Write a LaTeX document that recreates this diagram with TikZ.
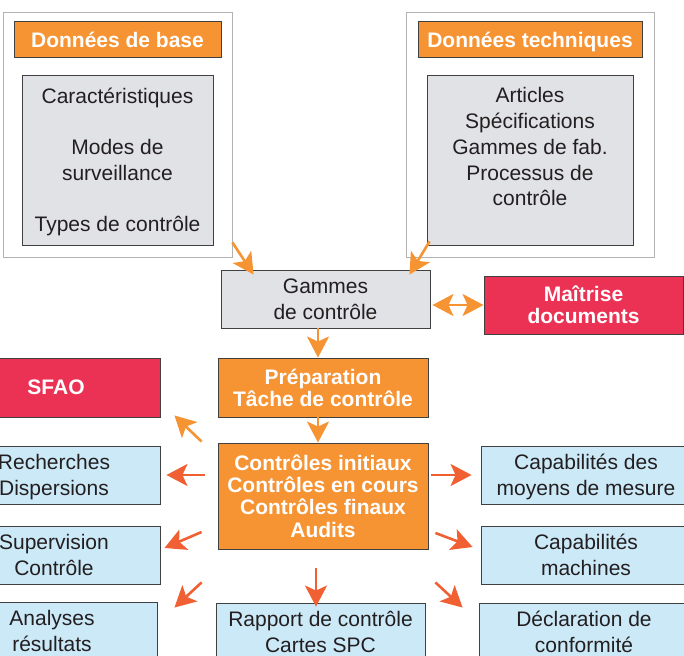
\documentclass[tikz,border=0pt]{standalone}
\usepackage{fontspec}
\setmainfont{Liberation Sans}
\usepackage{tikz, xcolor}
\definecolor{orangeF}{RGB}{246,147,51}
\definecolor{rougeF}{RGB}{236,50,84}
\definecolor{bleuF}{RGB}{204,233,248}
\definecolor{grisF}{RGB}{225,226,230}
\definecolor{flecheC}{RGB}{246,147,51}
\definecolor{flecheS}{RGB}{240,96,50}
\definecolor{texteF}{RGB}{35,31,32}
\usetikzlibrary{arrows.meta}
\tikzset{>={Stealth[length=21pt,width=22pt,inset=5pt]}}

\begin{document}
\begin{tikzpicture}[x=1pt, y=-1pt,
    boite/.style={draw=black!75, line width=0.9pt, inner sep=0pt, align=center, text depth=0pt, text=texteF, font=\fontsize{21}{25.7}\selectfont},
    boitegris/.style={boite, fill=grisF},
    boitebleu/.style={boite, fill=bleuF},
    boiteorange/.style={boite, fill=orangeF, text=white, font=\fontsize{21}{22.3}\selectfont\bfseries},
    boiterouge/.style={boiteorange, fill=rougeF},
    cadre/.style={draw=black!30, line width=0.8pt, inner sep=0pt},
    texte/.style={inner sep=0pt, align=center, text=texteF, font=\fontsize{21}{25.7}\selectfont},
    flecheclaire/.style={->, draw=flecheC, fill=flecheC, line width=2.6pt},
    flechesombre/.style={->, draw=flecheS, fill=flecheS, line width=2.6pt}]
    \useasboundingbox (0,0) rectangle (684,655);
    \clip (0,0) rectangle (684,655);
    \node [cadre, minimum width=229pt, minimum height=245pt] (cadreBase) at (117.5,134.5) {};
    \node [boiteorange, minimum width=207pt, minimum height=36pt] (titreBase) at (117.5,39.5) {Données de base};
    \node [boitegris, minimum width=191pt, minimum height=170pt] (listeBase) at (117.5,160) {};
    \node [texte, anchor=north] (texteBase) at ([yshift=-13pt]listeBase.north) {Caractéristiques\\[25.7pt]Modes de\\surveillance\\[25.7pt]Types de contrôle};
    \node [cadre, minimum width=248pt, minimum height=245pt] (cadreTech) at (530,134.5) {};
    \node [boiteorange, minimum width=224pt, minimum height=36pt] (titreTech) at (530,39.5) {Données techniques};
    \node [boitegris, minimum width=206pt, minimum height=170pt] (listeTech) at (530,160) {};
    \node [texte, anchor=north] (texteTech) at ([yshift=-13pt]listeTech.north) {Articles\\Spécifications\\Gammes de fab.\\Processus de\\contrôle};
    \node [boitegris, minimum width=209pt, minimum height=58pt] (gammes) at (325.5,299) {Gammes\\de contrôle};
    \node [boiterouge, minimum width=199pt, minimum height=58pt] (maitrise) at (583.5,305) {Maîtrise\\documents};
    \node [boiteorange, minimum width=210pt, minimum height=59pt] (prepa) at (323,387.5) {Préparation\\Tâche de contrôle};
    \node [boiterouge, minimum width=208pt, minimum height=59pt] (sfao) at (56,387.5) {SFAO};
    \node [boiteorange, minimum width=210pt, minimum height=106pt] (controles) at (323,496) {Contrôles initiaux\\Contrôles en cours\\Contrôles finaux\\Audits};
    \node [boitebleu, minimum width=212pt, minimum height=58pt] (recherches) at (54,475) {Recherches\\Dispersions};
    \node [boitebleu, minimum width=212pt, minimum height=58pt] (supervision) at (54,555) {Supervision\\Contrôle};
    \node [boitebleu, minimum width=210pt, minimum height=58pt] (analyses) at (52,631) {Analyses\\résultats};
    \node [boitebleu, minimum width=209pt, minimum height=58pt] (rapport) at (320.5,632) {Rapport de contrôle\\Cartes SPC};
    \node [boitebleu, minimum width=210pt, minimum height=58pt] (capaMesure) at (586,475) {Capabilités des\\moyens de mesure};
    \node [boitebleu, minimum width=210pt, minimum height=58pt] (capaMachines) at (586,555) {Capabilités\\machines};
    \node [boitebleu, minimum width=210pt, minimum height=58pt] (declaration) at (584,632) {Déclaration de\\conformité};
    \draw [flecheclaire] ([yshift=15pt]cadreBase.south east) -- ([xshift=33pt,yshift=-5pt]gammes.north west);
    \draw [flecheclaire] ([xshift=24pt,yshift=16pt]cadreTech.south west) -- ([xshift=-21pt,yshift=-5pt]gammes.north east);
    \draw [flecheclaire, <->, shorten <=2pt] (gammes.east |- maitrise.west) -- (maitrise.west);
    \draw [flecheclaire] ([xshift=-7.5pt]gammes.south) -- ([xshift=-5pt]prepa.north);
    \draw [flecheclaire] ([xshift=-5pt]prepa.south) -- ([xshift=-5pt]controles.north);
    \draw [flecheclaire] ([xshift=-16pt,yshift=1pt]controles.north west) -- ([xshift=14pt,yshift=2pt]sfao.south east);
    \draw [flechesombre, shorten <=13pt, shorten >=6pt] (controles.west |- recherches.east) -- (recherches.east);
    \draw [flechesombre] ([xshift=-16pt,yshift=-36pt]controles.west) -- ([xshift=4pt,yshift=7pt]supervision.east);
    \draw [flechesombre] ([xshift=-16pt,yshift=-33pt]controles.south west) -- ([xshift=17pt,yshift=-6pt]analyses.north east);
    \draw [flechesombre] ([xshift=-7pt,yshift=-19pt]controles.south) -- ([xshift=-4.5pt,yshift=-4pt]rapport.north);
    \draw [flechesombre, shorten <=3pt, shorten >=9pt] (controles.east |- capaMesure.west) -- (capaMesure.west);
    \draw [flechesombre] ([xshift=7pt,yshift=-37pt]controles.east) -- ([xshift=-8pt,yshift=8pt]capaMachines.west);
    \draw [flechesombre] ([xshift=7pt,yshift=-33pt]controles.south east) -- ([xshift=-16pt,yshift=-5pt]declaration.north west);
\end{tikzpicture}
\end{document}
